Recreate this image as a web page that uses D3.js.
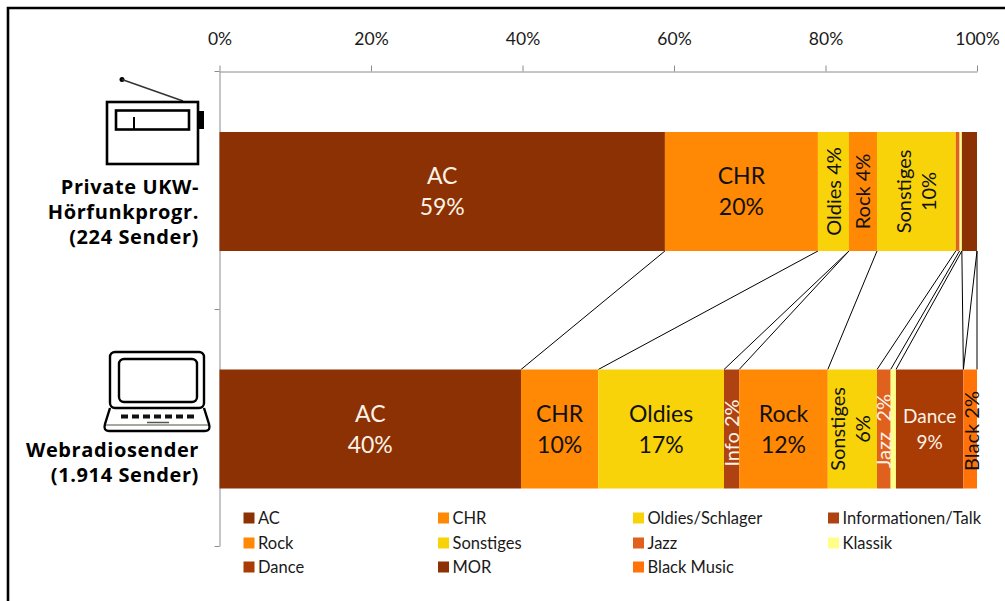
<!DOCTYPE html>
<html><head><meta charset="utf-8">
<script src="https://cdn.jsdelivr.net/npm/d3@7"></script>
<style>html,body{margin:0;background:#fff}svg{display:block}
text{font-family:Lato,"Open Sans",sans-serif;white-space:pre}
.cat{font-family:"Open Sans",sans-serif;font-weight:700;font-size:20px;letter-spacing:.6px;fill:#000}</style>
</head><body><svg id="c" width="1005" height="601"></svg>
<script>
const groups = ["Private UKW-Hörfunkprogr. (224 Sender)", "Webradiosender (1.914 Sender)"];
const seriesNames = ["AC","CHR","Oldies/Schlager","Informationen/Talk","Rock","Sonstiges","Jazz","Klassik","Dance","MOR","Black Music"];
const ukwValues = [58.8,20.2,4.1,0,3.7,10.4,0.5,0.3,0,2.0,0];
const webValues = [39.8,10.2,16.6,2.0,11.7,6.5,1.8,0.7,8.9,0,1.8];
const seriesColors = ["#8b3103","#ff8804","#f9d30a","#ae4311","#ff8804","#f9d30a","#e0601e","#ffff88","#a83c04","#8b3103","#ff7308"];
const tickValues = [0,20,40,60,80,100];
const labelsUkw = [["AC","59%"],["CHR","20%"],["Oldies 4%"],null,["Rock 4%"],["Sonstiges","10%"],null,null,null,null,null];
const labelsWeb = [["AC","40%"],["CHR","10%"],["Oldies","17%"],["Info 2%"],["Rock","12%"],["Sonstiges","6%"],["Jazz  2%"],null,["Dance","9%"],null,["Black 2%"]];
const labelIsLight = ["AC","Informationen/Talk","Jazz","Dance"];
const rotatedUkw = [false,false,true,false,true,true,false,false,false,false,false];
const rotatedWeb = [false,false,false,true,false,true,true,false,false,false,true];

const svg = d3.select("#c");
svg.append("path").attr("d","M1005 8H8V601").attr("fill","none").attr("stroke","#000").attr("stroke-width",2.6);

const x = d3.scaleLinear().domain([0,100]).range([219.5,977]);
const y = d3.scaleBand().domain(groups).range([71,546]).paddingInner(0).paddingOuter(0);
const barH = 119, barOff = (y.bandwidth()-barH)/2 + 1.75;

const rows = groups.map((g,i)=>{const o={group:g};seriesNames.forEach((s,j)=>o[s]=(i?webValues:ukwValues)[j]);return o;});
const stacked = d3.stack().keys(seriesNames)(rows);

// axes
const axT = svg.append("g").attr("transform","translate(0,71.5)").call(d3.axisTop(x).tickValues(tickValues).tickFormat(d=>d+"%").tickSize(6).tickSizeOuter(0));
axT.select(".domain").attr("stroke","#8c8c8c");
axT.selectAll("line").attr("stroke","#8c8c8c");
axT.selectAll("text").attr("font-size",17.5).attr("font-family","Lato").attr("fill","#1a1a1a").attr("dy",-18);
const axL = svg.append("g").attr("transform","translate(219.5,0)").call(d3.axisLeft(y).tickValues([]).tickSize(0));
axL.select(".domain").attr("stroke","#8c8c8c");
[71,y(groups[1]),546].forEach(v=>svg.append("line").attr("x1",214.5).attr("x2",219.5).attr("y1",Math.round(v)+.5).attr("y2",Math.round(v)+.5).attr("stroke","#8c8c8c"));

// connectors
seriesNames.forEach((s,j)=>{
  const [a,b]=[stacked[j][0],stacked[j][1]];
  svg.append("line").attr("x1",x(a[1])).attr("y1",y(groups[0])+barOff+barH)
    .attr("x2",x(b[1])).attr("y2",y(groups[1])+barOff)
    .attr("stroke","#000").attr("stroke-width",1);
});

// bars
stacked.forEach((ser,j)=>{
  svg.append("g").selectAll("rect").data(ser).join("rect")
    .attr("x",d=>x(d[0])).attr("width",d=>x(d[1])-x(d[0]))
    .attr("y",d=>y(d.data.group)+barOff).attr("height",barH)
    .attr("fill",seriesColors[j]);
});

// bar labels
function drawLabels(rowIdx,labels,rot){
  labels.forEach((lab,j)=>{
    if(!lab) return;
    const d=stacked[j][rowIdx];
    const name=seriesNames[j];
    const web=rowIdx===1;
    const cx=(x(d[0])+x(d[1]))/2 + (web&&name==="Black Music"?2:0) + (web&&name==="Sonstiges"?-2:0);
    const cy=y(groups[rowIdx])+barOff+barH/2 + (rot[j]&&web&&lab.length===1?2:0) + (web&&name==="Informationen/Talk"?2:0);
    const light=labelIsLight.includes(name);
    const fs=(name==="Dance")?19:23;
    const g=svg.append("g").attr("transform",`translate(${cx},${cy})`+(rot[j]?" rotate(-90)":""));
    const lh=rot[j]?25:fs*1.36, n=lab.length;
    lab.forEach((t,k)=>{
      g.append("text").attr("text-anchor","middle").attr("y",(k-(n-1)/2)*lh).attr("dy","0.36em")
       .attr("font-size",rot[j]?20:fs).attr("fill",light?"#fdf2e6":"#111").text(t);
    });
  });
}
drawLabels(0,labelsUkw,rotatedUkw);
drawLabels(1,labelsWeb,rotatedWeb);

// category labels
const catLines=[["Private UKW-","Hörfunkprogr.","(224 Sender)"],["Webradiosender","(1.914 Sender)"]];
const catBase=[194,457];
catLines.forEach((ls,i)=>ls.forEach((t,k)=>svg.append("text").attr("class","cat").attr("text-anchor","end").attr("x",199).attr("y",catBase[i]+k*25).text(t)));

// legend
const legCols=[243.5,438,633,828], legRows=[518,543,567];
seriesNames.forEach((s,j)=>{
  const c=j%4,r=Math.floor(j/4),g=svg.append("g");
  g.append("rect").attr("x",legCols[c]).attr("y",legRows[r]-5.5).attr("width",11).attr("height",11).attr("fill",seriesColors[j]);
  g.append("text").attr("x",legCols[c]+14.5).attr("y",legRows[r]).attr("dy","0.36em").attr("font-size",16.5).attr("fill","#1a1a1a").text(s);
});

// icons
const ic=svg.append("g").attr("fill","none").attr("stroke","#000");
ic.append("circle").attr("cx",122).attr("cy",79.5).attr("r",2.5).attr("fill","#000").attr("stroke","none");
ic.append("path").attr("d","M122 79.5L183 101").attr("stroke-width",1.5).attr("stroke","#333");
ic.append("rect").attr("x",107).attr("y",102).attr("width",91).attr("height",62).attr("stroke-width",2.6);
ic.append("rect").attr("x",116).attr("y",110.5).attr("width",73).attr("height",19).attr("stroke-width",2.6);
ic.append("path").attr("d","M134 117V130").attr("stroke-width",2);
ic.append("rect").attr("x",198).attr("y",111).attr("width",6).attr("height",18).attr("fill","#000").attr("stroke","none");
ic.append("rect").attr("x",110).attr("y",352).attr("width",94).attr("height",56).attr("rx",5).attr("stroke-width",2.4);
ic.append("rect").attr("x",119).attr("y",359).attr("width",78).attr("height",43).attr("rx",5).attr("stroke-width",2.4);
ic.append("path").attr("d","M110 408L105 424Q103 431 109 431H205Q211 431 209 424L204 408").attr("stroke-width",2.4);
ic.append("path").attr("d","M106 425H208").attr("stroke","#8a8a80").attr("stroke-width",1.6);
ic.append("path").attr("d","M147 422.5H169").attr("stroke","#555").attr("stroke-width",1.5);
[121,132,143,154,165,176,187].forEach(v=>ic.append("rect").attr("x",v).attr("y",414.5).attr("width",7).attr("height",4).attr("fill","#111").attr("stroke","none"));
</script></body></html>
